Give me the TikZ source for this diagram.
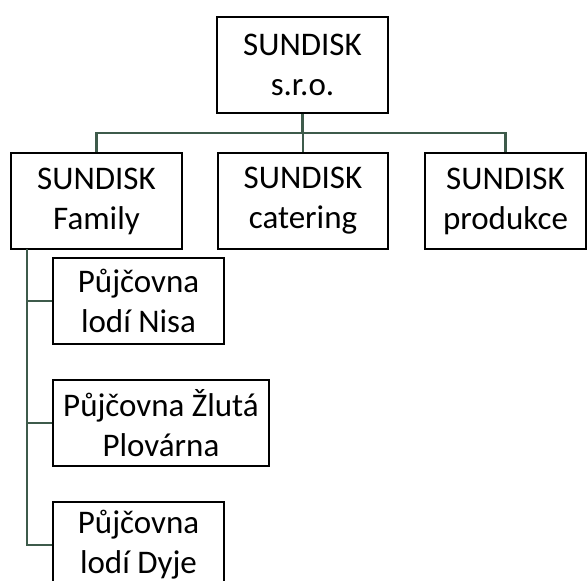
\documentclass[tikz,border=0pt]{standalone}
\usepackage{fontspec}
\setmainfont{Carlito}
\definecolor{linkgreen}{HTML}{3E5B4B}
\begin{document}
\begin{tikzpicture}[x=1pt, y=1pt,
        box/.style={draw=black, line width=1.6pt, align=center, inner sep=0pt,
            minimum height=96pt, font=\fontsize{33}{40}\selectfont},
        link/.style={draw=linkgreen, line width=2.6pt}]
    \useasboundingbox (0,0) rectangle (587,-581);
    % top level
    \node[box, minimum width=171pt] (top) at (302.5,-65) {SUNDISK\\s.r.o.};
    \foreach \name/\x/\w/\txt in {family/96.5/171/Family, catering/303/170/catering, produkce/505.5/161/produkce} {
            \node[box, minimum width=\w pt] (\name) at (\x,-201) {SUNDISK\\\txt};
        }
    % rental branches
    \node[box, minimum width=171pt, minimum height=86pt] (nisa) at (138.5,-301) {Půjčovna\\lodí Nisa};
    \node[box, minimum width=216pt, minimum height=86pt] (zluta) at (161,-423) {Půjčovna Žlutá\\Plovárna};
    \node[box, minimum width=171pt, minimum height=86pt] (dyje) at (138.5,-545) {Půjčovna\\lodí Dyje};
    \coordinate (bus) at (302.5,-133);
    \coordinate (spine) at (27,-249);
    \draw[link] (top.south) -- (bus);
    \foreach \name in {family, catering, produkce} {
            \draw[link] (bus) -| (\name.north);
        }
    \foreach \name in {nisa, zluta, dyje} {
            \draw[link] (spine) |- (\name.west);
        }
\end{tikzpicture}
\end{document}
